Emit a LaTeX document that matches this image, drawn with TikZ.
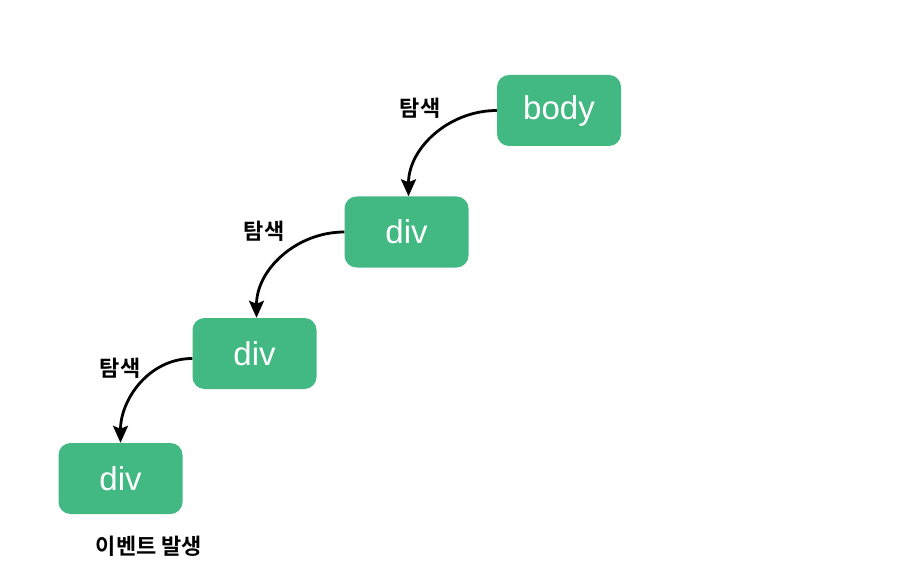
\documentclass[tikz,border=0pt]{standalone}
\usepackage{fontspec}
\setmainfont{Liberation Sans}
\newfontfamily\kr{Noto Sans CJK KR}[BoldFont={* Bold}]
\usetikzlibrary{arrows.meta}
\definecolor{vuegreen}{HTML}{42B883}
\begin{document}
\begin{tikzpicture}[x=1pt,y=-1pt,
  tag/.style={fill=vuegreen, rounded corners=12pt, minimum width=124pt, minimum height=71pt,
    inner sep=0pt, text=white, font=\fontsize{33}{36}\selectfont},
  lbl/.style={font=\kr\bfseries\fontsize{22}{24}\selectfont, inner sep=0pt},
  conn/.style={-{Stealth[length=17pt,width=15pt,inset=3pt]}, line width=2.8pt}]
\useasboundingbox (0,0) rectangle (912,585);
\node[tag] (body) at (559,110.5) {body};
\node[tag] (d1) at (406.5,232) {div};
\node[tag] (d2) at (254.5,353.5) {div};
\node[tag] (d3) at (120.5,478.5) {div};
\node[lbl] (l1) at (420,108) {탐색};
\node[lbl] (l2) at (264,231) {탐색};
\node[lbl] (l3) at (120,368) {탐색};
\node[lbl] (ev) at (149,546) {이벤트 발생};
\draw[conn] (body.west) to[out=180,in=90] ([xshift=2pt]d1.north);
\draw[conn] (d1.west) to[out=180,in=90] ([xshift=2pt]d2.north);
\draw[conn] ([yshift=-5pt]d2.west) to[out=180,in=90] (d3.north);
\end{tikzpicture}
\end{document}
